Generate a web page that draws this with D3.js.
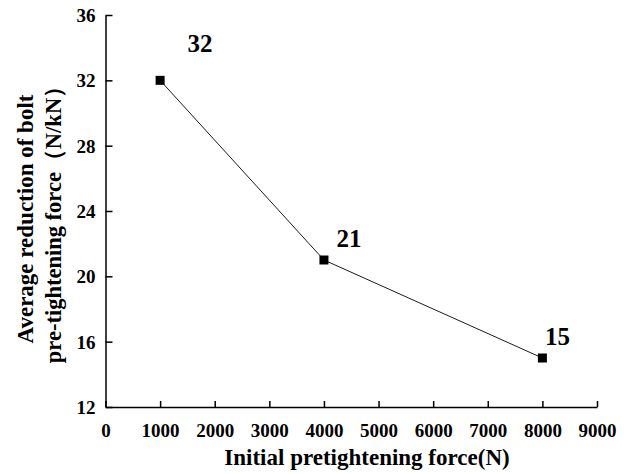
<!DOCTYPE html>
<html>
<head>
<meta charset="utf-8">
<script src="https://cdn.jsdelivr.net/npm/d3@7"></script>
<style>
  body { margin: 0; background: #fff; }
  text { font-family: "Liberation Serif", "Times New Roman", serif; font-weight: bold; fill: #000; }
</style>
</head>
<body>
<div id="chart"></div>
<script>
const forces = [1000, 4000, 8000];
const reductions = [32, 21, 15];
const pointLabels = ['32', '21', '15'];
const xTicks = [0, 1000, 2000, 3000, 4000, 5000, 6000, 7000, 8000, 9000];
const yTicks = [12, 16, 20, 24, 28, 32, 36];
// pixel nudges for the value labels
const labelDx = [40, 25, 15];
const labelDy = [-28, -13, -13];

const width = 631, height = 474;
const svg = d3.select('#chart').append('svg')
    .attr('width', width)
    .attr('height', height);

const x = d3.scaleLinear().domain([0, 9000]).range([105.5, 597]);
const y = d3.scaleLinear().domain([12, 36]).range([407, 15]);

const xAxis = svg.append('g')
    .attr('transform', `translate(0,${y(12)})`)
    .call(d3.axisBottom(x).tickValues(xTicks).tickFormat(d3.format('d'))
        .tickSizeInner(-6).tickSizeOuter(0).tickPadding(17));
const yAxis = svg.append('g')
    .attr('transform', `translate(${x(0)},0)`)
    .call(d3.axisLeft(y).tickValues(yTicks).tickFormat(d3.format('d'))
        .tickSizeInner(-7).tickSizeOuter(0).tickPadding(10));

[xAxis, yAxis].forEach(a => {
    a.select('.domain').attr('stroke', '#000').attr('stroke-width', 1.5);
    a.selectAll('.tick line').attr('stroke', '#000').attr('stroke-width', 1.5);
    a.selectAll('.tick text')
        .style('font-size', '19px')
        .style('font-family', '"Liberation Serif", serif')
        .style('font-weight', 'bold');
});
yAxis.selectAll('.tick text').attr('dy', '0.35em');

const pts = forces.map((f, i) => ({ f, r: reductions[i], label: pointLabels[i], i }));

svg.append('path')
    .datum(pts)
    .attr('fill', 'none')
    .attr('stroke', '#000')
    .attr('stroke-width', 0.9)
    .attr('d', d3.line().x(d => x(d.f)).y(d => y(d.r)));

svg.selectAll('rect.pt')
    .data(pts)
    .enter().append('rect')
    .attr('class', 'pt')
    .attr('x', d => x(d.f) - 4.5)
    .attr('y', d => y(d.r) - 4.5)
    .attr('width', 9)
    .attr('height', 9)
    .attr('fill', '#000');

svg.selectAll('text.val')
    .data(pts)
    .enter().append('text')
    .attr('class', 'val')
    .attr('x', d => x(d.f) + labelDx[d.i])
    .attr('y', d => y(d.r) + labelDy[d.i])
    .attr('text-anchor', 'middle')
    .style('font-size', '25px')
    .text(d => d.label);

svg.append('text')
    .attr('x', 367)
    .attr('y', 465)
    .attr('text-anchor', 'middle')
    .style('font-size', '23px')
    .text('Initial pretightening force(N)');

const yTitle = svg.append('text')
    .attr('transform', 'translate(0,219) rotate(-90)')
    .attr('text-anchor', 'middle');
yTitle.append('tspan').attr('x', 0).attr('y', 33).style('font-size', '23px').text('Average reduction of bolt');
yTitle.append('tspan').attr('x', 0).attr('y', 61).style('font-size', '22.5px').text('pre-tightening force（N/kN）');
</script>
</body>
</html>
